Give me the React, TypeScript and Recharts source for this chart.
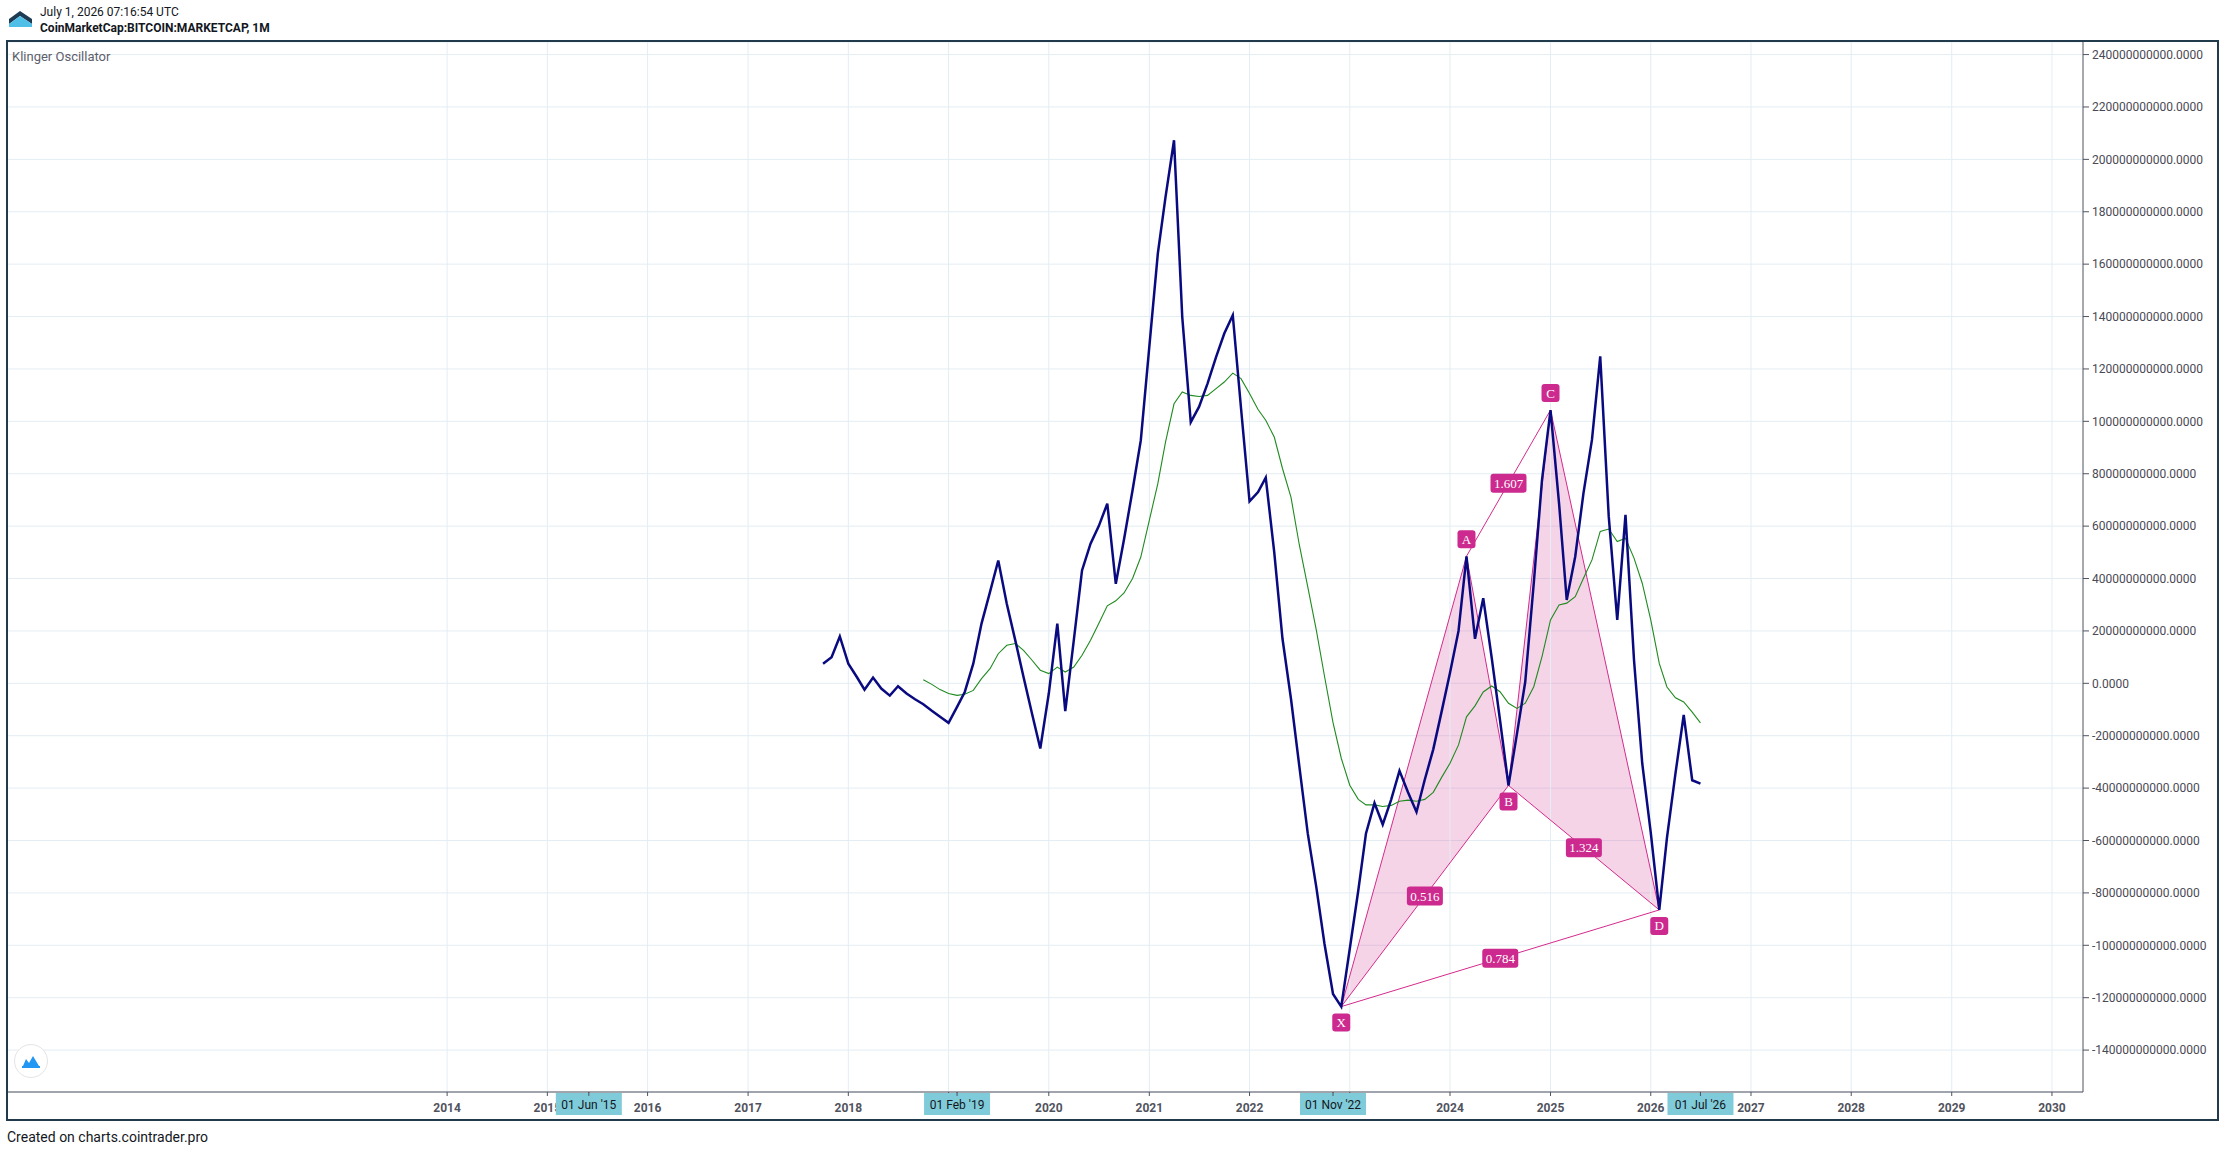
import React from "react";
import { ComposedChart, Line, Area, Scatter, XAxis, YAxis, CartesianGrid, ReferenceLine } from "recharts";

// Klinger Oscillator, monthly, in billions (1e9)
const klingerStart = { year: 2017, month: 10 };
const klinger = [
  7.5, 10, 17.9,
  7.5, 2.4, -2.4, 2.2, -2.0, -4.7, -1.1, -3.9, -6.1, -8.0, -10.5, -12.8,
  -15.1, -9.0, -3.3, 7.5, 22.8, 34.9, 46.9, 30.4, 16.4, 2.4, -11.6, -24.9,
  -3.9, 22.8, -10.6, 16.4, 43.1, 53.3, 60, 68.6, 38, 55, 73.7, 92.7,
  128.4, 164, 185.6, 207.3, 139.8, 99.7, 105.5, 114.4, 124.5, 133.5, 140.5, 105,
  69.5, 73, 78.5, 50, 17, -6, -31.4, -57.3, -77.7, -99.5, -118.6, -123.4,
  -101.3, -79.1, -57.3, -45.7, -53.9, -44.3, -33.4, -41.6, -49.1, -36.8, -25.2, -11,
  4, 20, 48.5, 17, 32.5, 9.6, -14, -39, -19.1, 0.6, 38.2, 77.7,
  104.3, 68.8, 31.8, 48.4, 72.6, 93, 124.8, 63.7, 24.2, 64.3, 8.9, -30.6,
  -57, -86.5, -59, -34.4, -12.1, -37, -38.3,
];

// signal line, in billions
const signalStart = { year: 2018, month: 10 };
const signal = [
  1.4, -0.4, -2.4,
  -3.9, -4.6, -4.2, -2.7, 1.8, 5.6, 11.3, 14.5, 15.2, 12.6, 8.8, 5.0,
  3.7, 6.2, 4.3, 6.2, 10.7, 16.4, 22.8, 29.6, 31.5, 34.5, 40, 48.2,
  62.2, 76.2, 92.1, 106.7, 111.2, 109.9, 109.5, 109.9, 112.5, 115, 118.4, 116.3,
  110.6, 104.5, 100.4, 94, 82, 71, 53, 36.8, 20.4, 2.7, -15, -28.6,
  -38.9, -44.3, -46.4, -46.4, -47, -46.6, -45, -44.6, -45, -44.3, -41.6, -36,
  -30.5, -23.5, -12.8, -8.6, -3.3, -1, -3.2, -7.6, -9.6, -7.6, -1.3, 10.2,
  24.2, 29.9, 30.6, 33.1, 40.1, 47.1, 58, 58.9, 54.1, 55.4, 47.8, 38.2,
  24.2, 7.6, -1.4, -5.5, -7.1, -11, -15.1,
];

const yearTicks = [2014, 2015, 2016, 2017, 2018, 2019, 2020, 2021, 2022, 2023, 2024, 2025, 2026, 2027, 2028, 2029, 2030];
const highlightDates = [
  { year: 2015, month: 6, label: "01 Jun '15" },
  { year: 2019, month: 2, label: "01 Feb '19" },
  { year: 2022, month: 11, label: "01 Nov '22" },
  { year: 2026, month: 7, label: "01 Jul '26" },
];
const yTicks = [240, 220, 200, 180, 160, 140, 120, 100, 80, 60, 40, 20, 0, -20, -40, -60, -80, -100, -120, -140];

// XABCD harmonic pattern on the oscillator
const patternPoints = [
  { name: "X", year: 2022, month: 12 },
  { name: "A", year: 2024, month: 3 },
  { name: "B", year: 2024, month: 8 },
  { name: "C", year: 2025, month: 1 },
  { name: "D", year: 2026, month: 2 },
];
const patternRatios = [
  { from: "X", to: "B", ratio: "0.516" },
  { from: "A", to: "C", ratio: "1.607" },
  { from: "B", to: "D", ratio: "1.324" },
  { from: "X", to: "D", ratio: "0.784" },
];

const BN = 1e9;
const DAY = 86400000;
const monthTs = (y: number, m: number) => Date.UTC(y, m - 1, 1);

const signalOffset = (signalStart.year - klingerStart.year) * 12 + (signalStart.month - klingerStart.month);
const rows = klinger.map((v, i) => ({
  t: Date.UTC(klingerStart.year, klingerStart.month - 1 + i, 1),
  k: v * BN,
  s: i >= signalOffset ? signal[i - signalOffset] * BN : null,
}));

const pts = patternPoints.map((p) => {
  const t = monthTs(p.year, p.month);
  const row = rows.find((r) => r.t === t)!;
  return { name: p.name, t, v: row.k };
});
const byName = (n: string) => pts.find((p) => p.name === n)!;
const labelPts = pts.map((p, i) => {
  const nb = pts[i === 0 ? 1 : i - 1];
  return { ...p, above: p.v > nb.v };
});
const lerpAt = (a: any, b: any, t: number) => a.v + ((b.v - a.v) * (t - a.t)) / (b.t - a.t);
const triangle = (a: string, b: string, c: string) => {
  const p0 = byName(a), p1 = byName(b), p2 = byName(c);
  const mid = lerpAt(p0, p2, p1.t);
  return [
    { t: p0.t, r: [p0.v, p0.v] },
    { t: p1.t, r: [Math.min(mid, p1.v), Math.max(mid, p1.v)] },
    { t: p2.t, r: [p2.v, p2.v] },
  ];
};
const triXAB = triangle("X", "A", "B");
const triBCD = triangle("B", "C", "D");
const ratioEdges = patternRatios.map((e) => {
  const a = byName(e.from), b = byName(e.to);
  return { edge: [a, b], mid: { t: (a.t + b.t) / 2, v: (a.v + b.v) / 2, ratio: e.ratio } };
});

// year labels sitting right under a highlighted date box are hidden, like the crosshair labels do
const hlTs = highlightDates.map((h) => monthTs(h.year, h.month));
const hiddenYear = (ts: number) => hlTs.some((h) => Math.abs(h - ts) < 90 * DAY);

const PINK = "#d42a8c";
const BOX = "#cc2a8e";
const SERIF = "'Liberation Serif', 'DejaVu Serif', serif";
const SANS = "Roboto, 'Noto Sans', sans-serif";

const PointLabel = (props: any) => {
  const { cx, cy, payload } = props;
  const cyl = cy + (payload.above ? -17 : 16);
  return (
    <g>
      <rect x={cx - 9} y={cyl - 9} width={18} height={18} rx={3} fill={BOX} />
      <text x={cx} y={cyl + 4.5} textAnchor="middle" fill="#fff" fontFamily={SERIF} fontSize={13}>
        {payload.name}
      </text>
    </g>
  );
};

const RatioLabel = (props: any) => {
  const { cx, cy, payload } = props;
  return (
    <g>
      <rect x={cx - 18} y={cy - 9.5} width={36} height={19} rx={3} fill={BOX} />
      <text x={cx} y={cy + 4.5} textAnchor="middle" fill="#fff" fontFamily={SERIF} fontSize={13}>
        {payload.ratio}
      </text>
    </g>
  );
};

const XTick = (props: any) => {
  const { x, y, payload } = props;
  const hl = highlightDates.find((h) => monthTs(h.year, h.month) === payload.value);
  if (hl) {
    return (
      <g>
        <rect x={x - 33} y={y - 3} width={66} height={22} fill="#80cbd9" />
        <line x1={x} x2={x} y1={y - 4} y2={y} stroke="#50535e" />
        <text x={x} y={y + 12.5} textAnchor="middle" fill="#131722" fontFamily={SANS} fontSize={12}>
          {hl.label}
        </text>
      </g>
    );
  }
  if (hiddenYear(payload.value)) return <g />;
  return (
    <text x={x} y={y + 16} textAnchor="middle" fill="#50535e" fontFamily={SANS} fontSize={12} fontWeight={700}>
      {new Date(payload.value).getUTCFullYear()}
    </text>
  );
};

const xTickValues = [...yearTicks.map((y) => monthTs(y, 1)), ...hlTs];

export default function App() {
  return (
    <div style={{ position: "absolute", left: 0, top: 0, width: 2226, height: 1152, background: "#fff", fontFamily: SANS }}>
      {/* header */}
      <svg style={{ position: "absolute", left: 8, top: 10 }} width={25} height={18}>
        <polygon points="1,9 12,1 24,9 24,14 12,6 1,14" fill="#1d3c53" />
        <polygon points="1,14 12,6 24,14 24,17 1,17" fill="#4fbfe8" />
      </svg>
      <div style={{ position: "absolute", left: 40, top: 5, fontSize: 12, color: "#131722" }}>July 1, 2026 07:16:54 UTC</div>
      <div style={{ position: "absolute", left: 40, top: 21, fontSize: 12, fontWeight: 700, color: "#131722" }}>
        CoinMarketCap:BITCOIN:MARKETCAP, 1M
      </div>

      <div style={{ position: "absolute", left: 0, top: 0 }}>
        <ComposedChart width={2226} height={1152} data={rows} margin={{ top: 42, right: 0, bottom: 32, left: 8 }}>
          <CartesianGrid vertical={false} stroke="#e3edf3" strokeWidth={1} />
          {yearTicks.map((y) => (
            <ReferenceLine key={y} x={monthTs(y, 1)} stroke="#e3edf3" strokeWidth={1} />
          ))}
          <XAxis
            dataKey="t"
            type="number"
            scale="time"
            domain={[Date.UTC(2009, 7, 16), Date.UTC(2030, 3, 24)]}
            allowDataOverflow
            ticks={xTickValues}
            interval={0}
            height={28}
            tickSize={4}
            tickMargin={0}
            tick={<XTick />}
            axisLine={{ stroke: "#50535e" }}
            tickLine={{ stroke: "#50535e" }}
          />
          <YAxis
            orientation="right"
            type="number"
            width={143}
            domain={[-156 * BN, 244.8 * BN]}
            allowDataOverflow
            ticks={yTicks.map((v) => v * BN)}
            interval={0}
            tickFormatter={(v: number) => v.toFixed(4)}
            tickSize={6}
            tickMargin={3}
            tick={{ fill: "#4a4a55", fontSize: 12, fontFamily: SANS, textAnchor: "start" }}
            axisLine={{ stroke: "#50535e" }}
            tickLine={{ stroke: "#50535e" }}
          />
          <Area data={triXAB} dataKey="r" type="linear" stroke="none" fill={PINK} fillOpacity={0.2} isAnimationActive={false} />
          <Area data={triBCD} dataKey="r" type="linear" stroke="none" fill={PINK} fillOpacity={0.2} isAnimationActive={false} />
          <Line data={pts} dataKey="v" type="linear" stroke={PINK} strokeWidth={1} dot={false} isAnimationActive={false} />
          {ratioEdges.map((e, i) => (
            <Line key={i} data={e.edge} dataKey="v" type="linear" stroke={PINK} strokeWidth={1} dot={false} isAnimationActive={false} />
          ))}
          <Line dataKey="s" type="linear" stroke="#1f8a1f" strokeWidth={1.1} dot={false} isAnimationActive={false} />
          <Line dataKey="k" type="linear" stroke="#0a0a80" strokeWidth={2.5} dot={false} isAnimationActive={false} />
          <Scatter data={labelPts} dataKey="v" shape={<PointLabel />} isAnimationActive={false} />
          <Scatter data={ratioEdges.map((e) => e.mid)} dataKey="v" shape={<RatioLabel />} isAnimationActive={false} />
        </ComposedChart>
      </div>

      {/* frame */}
      <div style={{ position: "absolute", left: 6, top: 40, width: 2213, height: 1081, border: "2px solid #213b4c", boxSizing: "border-box", pointerEvents: "none" }} />
      <div style={{ position: "absolute", left: 12, top: 49, fontSize: 13, color: "#5d606b" }}>Klinger Oscillator</div>
      <svg style={{ position: "absolute", left: 13, top: 1043 }} width={36} height={36}>
        <circle cx={18} cy={18} r={16.5} fill="#fff" stroke="#e4e4e4" />
        <path d="M10,23 L13,16 L16,20 L20,13 L26,23 Z" fill="#2196f3" />
        <path d="M9,24 L27,24" stroke="#2196f3" strokeWidth={2} />
      </svg>
      <div style={{ position: "absolute", left: 7, top: 1129, fontSize: 14, color: "#131722" }}>Created on charts.cointrader.pro</div>
    </div>
  );
}
